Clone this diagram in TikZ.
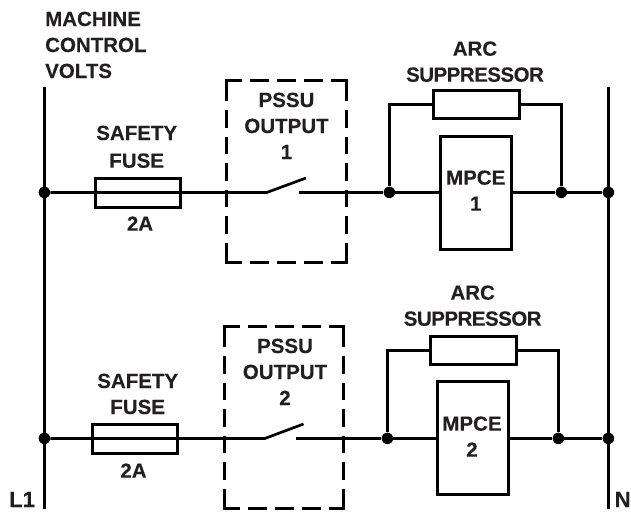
\documentclass[tikz,border=0pt]{standalone}
\usepackage{fontspec}
\setmainfont[BoldFeatures={FakeBold=0.25}]{Liberation Sans}
\definecolor{ink}{HTML}{231F20}
\newcommand{\tightword}[1]{{\addfontfeature{LetterSpace=-2.5}#1}}
\tikzset{
  wire/.style={line width=2.7pt,black,line join=miter},
  boxpart/.style={draw=black,line width=2.7pt,fill=none,inner sep=0pt,outer sep=0pt,anchor=north west},
  junction/.style={circle,fill=black,inner sep=0pt,minimum size=11.5pt},
  pssubox/.style={inner sep=0pt,outer sep=0pt,anchor=north west},
  hdash/.style={line width=2.7pt,black,line cap=rect,dash pattern=on 14.7pt off 10.6pt on 16.4pt off 10.6pt on 16.4pt off 10.6pt on 16.4pt off 10.6pt on 30pt off 1pt},
  vdash/.style={line width=2.7pt,black,line cap=rect,dash pattern=on 19.7pt off 11.6pt on 14.9pt off 11.6pt on 14.9pt off 11.6pt on 14.9pt off 11.6pt on 14.9pt off 11.6pt on 14.9pt off 11.6pt on 30pt off 1pt},
  lbl/.style={anchor=base,inner sep=0pt,align=center,text=ink,font=\fontsize{20.5}{26}\selectfont\bfseries},
  biglbl/.style={lbl,anchor=base west,font=\fontsize{22}{26}\selectfont\bfseries},
}
\begin{document}
\begin{tikzpicture}[x=1pt,y=-1pt]
\useasboundingbox (0,0) rectangle (631,512);
% rails
\coordinate (LT) at (44.4,87); \coordinate (LB) at (44.4,509);
\coordinate (RT) at (608.4,87); \coordinate (RB) at (608.4,509);
\draw[wire] (LT) -- (LB);
\draw[wire] (RT) -- (RB);
% junctions
\node[junction] (L1j) at (44.4,192.4) {};
\node[junction] (R1j) at (608.4,192.4) {};
\node[junction] (A1j) at (389.4,192.4) {};
\node[junction] (B1j) at (561.4,192.4) {};
\node[junction] (L2j) at (44.4,438.4) {};
\node[junction] (R2j) at (608.4,438.4) {};
\node[junction] (A2j) at (387.4,438.4) {};
\node[junction] (B2j) at (558.4,438.4) {};
% components
\node[boxpart,minimum width=85pt,minimum height=29pt] (fuse1) at (95.4,178.4) {};
\node[boxpart,minimum width=85pt,minimum height=29pt] (fuse2) at (92.4,424.4) {};
\node[boxpart,minimum width=86pt,minimum height=28pt] (arc1) at (433.4,90.4) {};
\node[boxpart,minimum width=86pt,minimum height=28pt] (arc2) at (430.4,336.4) {};
\node[boxpart,minimum width=71pt,minimum height=113pt] (mpce1) at (440.4,136.4) {};
\node[boxpart,minimum width=71pt,minimum height=113pt] (mpce2) at (437.4,381.4) {};
\node[pssubox,minimum width=120pt,minimum height=182pt] (pssu1) at (226.4,80.4) {};
\node[pssubox,minimum width=119pt,minimum height=182pt] (pssu2) at (224.4,326.4) {};
% dashed outlines
\draw[hdash] (pssu1.north west) -- (pssu1.north east);
\draw[hdash] (pssu1.south west) -- (pssu1.south east);
\draw[vdash] (pssu1.north west) -- (pssu1.south west);
\draw[vdash] (pssu1.north east) -- (pssu1.south east);
\draw[hdash] (pssu2.north west) -- (pssu2.north east);
\draw[hdash] (pssu2.south west) -- (pssu2.south east);
\draw[vdash] (pssu2.north west) -- (pssu2.south west);
\draw[vdash] (pssu2.north east) -- (pssu2.south east);
% switch contacts
\coordinate (s1a) at (267,192.4); \coordinate (s1b) at (306,178); \coordinate (s1c) at (299,192.4);
\coordinate (s2a) at (265,438.4); \coordinate (s2b) at (303.5,424); \coordinate (s2c) at (296,438.4);
% row 1
\draw[wire] (L1j) -- (s1a) -- (s1b);
\draw[wire] (s1c) -- (A1j) -- (A1j -| mpce1.west);
\draw[wire] (B1j -| mpce1.east) -- (B1j) -- (R1j);
\draw[wire] (A1j) |- (arc1.west);
\draw[wire] (B1j) |- (arc1.east);
% row 2
\draw[wire] (L2j) -- (s2a) -- (s2b);
\draw[wire] (s2c) -- (A2j) -- (A2j -| mpce2.west);
\draw[wire] (B2j -| mpce2.east) -- (B2j) -- (R2j);
\draw[wire] (A2j) |- (arc2.west);
\draw[wire] (B2j) |- (arc2.east);
% labels (positions are the last line's baseline)
\node[lbl,align=left,anchor=base west] (mcv) at (45,78) {MACHINE\\CONTROL\\VOLTS};
\node[lbl] (sf1) at (136.7,167.7) {SAFETY\\[1.7pt]FUSE};
\node[lbl] (a1) at (140,230.7) {2A};
\node[lbl] (p1) at (286.5,159) {PSSU\\OUTPUT\\1};
\node[lbl] (as1) at (475,81.7) {ARC\\\tightword{SUPPRESSOR}};
\node[lbl] (m1) at (475.7,210.7) {MPCE\\1};
\node[lbl] (sf2) at (137.7,414) {SAFETY\\FUSE};
\node[lbl] (a2) at (133.5,477.7) {2A};
\node[lbl] (p2) at (285,405) {PSSU\\OUTPUT\\2};
\node[lbl] (as2) at (472.7,325.7) {ARC\\\tightword{SUPPRESSOR}};
\node[lbl] (m2) at (472,456.7) {MPCE\\2};
\node[biglbl] (l1) at (9,507) {L1};
\node[biglbl] (nn) at (614.5,507) {N};
\end{tikzpicture}
\end{document}
